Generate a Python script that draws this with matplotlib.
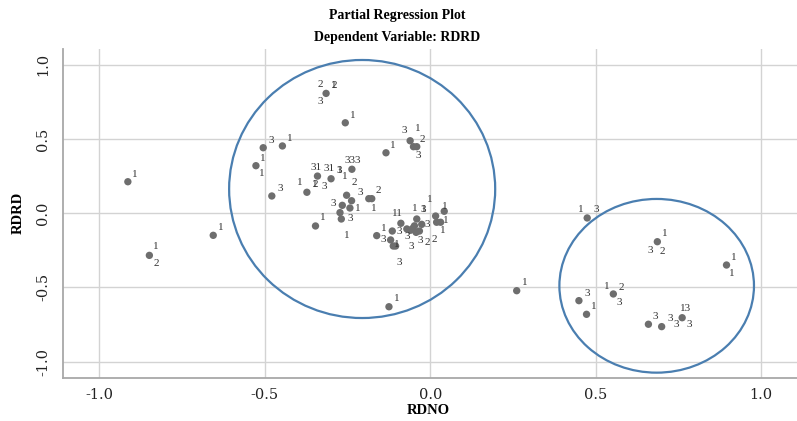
import matplotlib
matplotlib.use("Agg")
import matplotlib.pyplot as plt
from matplotlib.patches import Ellipse

# Partial residuals: RDNO (x) against RDRD (y)
pt_x = [-0.914, -0.656, -0.849,
        -0.315, -0.257, -0.061, -0.051, -0.041, -0.134, -0.505, -0.447, -0.527,
        -0.341, -0.300, -0.237, -0.373, -0.479, -0.253, -0.238, -0.266, -0.243,
        -0.186, -0.177, -0.273, -0.269, -0.347,
        -0.162, -0.115, -0.089, -0.120, -0.112, -0.105, -0.071, -0.053, -0.041,
        -0.033, -0.026, -0.043, -0.060, -0.048, 0.016, 0.042, 0.019, 0.031,
        -0.125,
        0.261, 0.474, 0.686, 0.895, 0.449, 0.472, 0.553, 0.659, 0.699, 0.761]
pt_y = [0.212, -0.149, -0.284,
        0.807, 0.609, 0.488, 0.448, 0.448, 0.407, 0.441, 0.453, 0.320,
        0.250, 0.232, 0.296, 0.141, 0.116, 0.121, 0.084, 0.053, 0.035,
        0.098, 0.098, 0.004, -0.039, -0.086,
        -0.151, -0.120, -0.068, -0.180, -0.221, -0.221, -0.106, -0.102, -0.039,
        -0.120, -0.075, -0.129, -0.115, -0.085, -0.019, 0.013, -0.061, -0.061,
        -0.630,
        -0.522, -0.032, -0.192, -0.349, -0.589, -0.681, -0.544, -0.748, -0.764, -0.704]

# Case labels (group codes) and where they sit
lab_x = [-0.894, -0.634, -0.830, -0.828,
         -0.333, -0.291, -0.291, -0.333, -0.234, -0.079, -0.038, -0.023, -0.036,
         -0.114, -0.481, -0.424, -0.505, -0.509, -0.234, -0.345, -0.305, -0.275,
         -0.275, -0.257,
         -0.394, -0.348, -0.348, -0.320, -0.454, -0.231, -0.212, -0.156, -0.293,
         -0.219, -0.170, -0.243, -0.326, -0.253, -0.095,
         -0.140, -0.142, -0.098, -0.095, -0.071, -0.100, -0.058, -0.031, -0.008,
         0.011, -0.046, -0.021, -0.021, -0.003, -0.008, 0.045, 0.048, 0.039,
         -0.102,
         0.454, 0.500, 0.707, 0.666, 0.702, 0.918, 0.912, 0.284, 0.473, 0.495,
         0.533, 0.576, 0.570, 0.681, 0.724, 0.744, 0.772, 0.782]
lab_y = [0.264, -0.098, -0.225, -0.340,
         0.868, 0.861, 0.861, 0.751, 0.661, 0.554, 0.569, 0.498, 0.390,
         0.455, 0.493, 0.502, 0.370, 0.269, 0.358, 0.309, 0.302, 0.291,
         0.291, 0.250,
         0.205, 0.190, 0.190, 0.178, 0.168, 0.205, 0.138, 0.152, 0.067,
         0.033, 0.033, -0.039, -0.028, -0.151, -0.333,
         -0.102, -0.180, -0.005, -0.124, -0.158, -0.214, -0.221, -0.185, -0.196,
         -0.176, 0.033, 0.022, 0.022, 0.094, -0.073, 0.048, -0.046, -0.118,
         -0.573,
         0.026, 0.022, -0.136, -0.248, -0.259, -0.297, -0.405, -0.468, -0.544, -0.630,
         -0.495, -0.499, -0.603, -0.697, -0.710, -0.753, -0.640, -0.753]
lab_text = ["1", "1", "1", "2",
            "2", "2", "1", "3", "1", "3", "1", "2", "3",
            "1", "3", "1", "1", "1", "333", "31", "31", "3",
            "1", "1",
            "1", "2", "1", "3", "3", "2", "3", "2", "3",
            "1", "1", "3", "1", "1", "3",
            "1", "3", "11", "3", "3", "1", "3", "3", "2",
            "2", "1", "3", "1", "1", "3", "1", "1", "1",
            "1",
            "1", "3", "1", "3", "2", "1", "1", "1", "3", "1",
            "1", "2", "3", "3", "3", "3", "13", "3"]

# Highlighted groups: centre x, centre y, half-width, half-height
grp_cx = [-0.206, 0.684]
grp_cy = [0.163, -0.489]
grp_rx = [0.402, 0.294]
grp_ry = [0.869, 0.585]

x_ticks = [-1.0, -0.5, 0.0, 0.5, 1.0]
y_ticks = [-1.0, -0.5, 0.0, 0.5, 1.0]

W, H = 797, 421
fig = plt.figure(figsize=(W / 100, H / 100), dpi=100)
ax = fig.add_axes([63 / W, 1 - 378 / H, (W - 63) / W, (378 - 49.3) / H])
ax.set_xlim(-1.11, 1.108)
ax.set_ylim(-1.110, 1.104)

ax.set_xticks(x_ticks)
ax.set_yticks(y_ticks)
ax.set_xticklabels([f"{v:.1f}" for v in x_ticks], family="DejaVu Serif", fontsize=10.5)
ax.set_yticklabels([f"{v:.1f}" for v in y_ticks], family="DejaVu Serif", fontsize=10.5,
                   rotation=90, va="center")
ax.tick_params(length=0, colors="#222222")
ax.tick_params(axis="x", pad=7)
ax.tick_params(axis="y", pad=9)
ax.grid(True, color="#d3d3d3", lw=1.0)
ax.set_axisbelow(True)
for s in ("top", "right"):
    ax.spines[s].set_visible(False)
for s in ("left", "bottom"):
    ax.spines[s].set_color("#a8a8a8")
    ax.spines[s].set_linewidth(1.3)

ax.scatter(pt_x, pt_y, s=28, color="#6e6e6e", edgecolors="none", zorder=3)
for x, y, t in zip(lab_x, lab_y, lab_text):
    ax.text(x, y, t, ha="center", va="center", fontsize=8,
            family="Liberation Serif", color="#333333", zorder=4)

for cx, cy, rx, ry in zip(grp_cx, grp_cy, grp_rx, grp_ry):
    ax.add_patch(Ellipse((cx, cy), 2 * rx, 2 * ry, fill=False,
                         edgecolor="#4a7eb0", lw=1.6, zorder=5))

ax.set_xlabel("RDNO", family="Liberation Serif", fontweight="bold", fontsize=10.5,
              va="center")
ax.xaxis.set_label_coords((428 - 63) / (W - 63), (378 - 410) / (378 - 49.3))
ax.set_ylabel("RDRD", family="Liberation Serif", fontweight="bold", fontsize=10.5,
              va="center")
ax.yaxis.set_label_coords((18 - 63) / (W - 63), (378 - 213) / (378 - 49.3))

fig.text(397 / W, 1 - 15 / H, "Partial Regression Plot", ha="center", va="center",
         family="Liberation Serif", fontweight="bold", fontsize=10)
fig.text(397 / W, 1 - 38 / H, "Dependent Variable: RDRD", ha="center", va="center",
         family="Liberation Serif", fontweight="bold", fontsize=10)

fig.savefig("out.png", dpi=100)
